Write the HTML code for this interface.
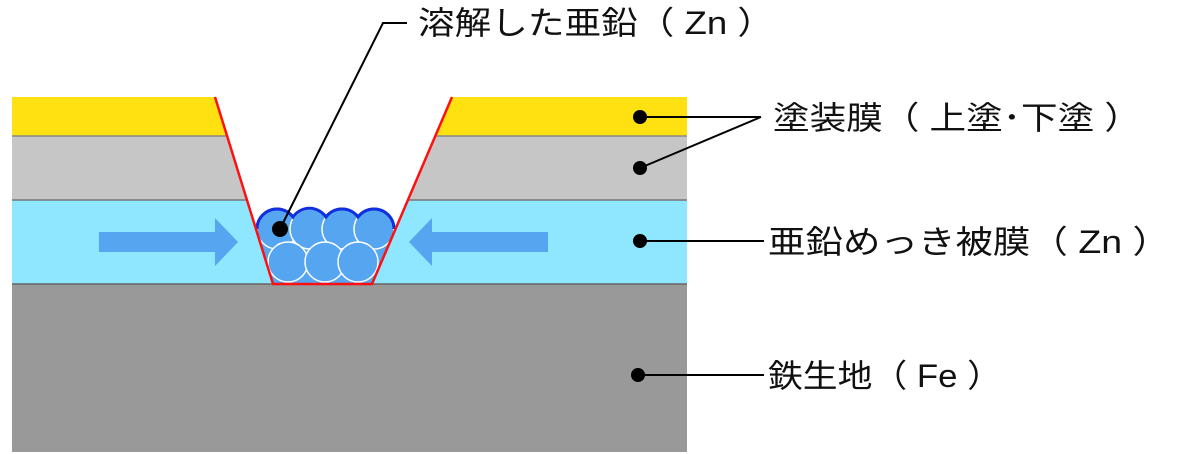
<!DOCTYPE html>
<html><head><meta charset="utf-8"><style>html,body{margin:0;padding:0;background:#fff}svg{display:block}</style></head>
<body>
<svg width="1200" height="454" viewBox="0 0 1200 454" xmlns="http://www.w3.org/2000/svg" font-family="'Liberation Sans','Noto Sans CJK JP',sans-serif">
<defs>
<clipPath id="trap"><polygon points="215,97 273,284 372,284 452,97"/></clipPath>
</defs>
<!-- layers -->
<rect x="12" y="97" width="675" height="39" fill="#FFE010"/>
<rect x="12" y="136" width="675" height="64" fill="#C6C6C6"/>
<rect x="12" y="200" width="675" height="84" fill="#8EE6FF"/>
<rect x="12" y="284" width="675" height="168" fill="#999999"/>
<line x1="12" y1="136" x2="687" y2="136" stroke="#888" stroke-width="1.5"/>
<line x1="12" y1="200" x2="687" y2="200" stroke="#777" stroke-width="1.5"/>
<line x1="12" y1="284" x2="687" y2="284" stroke="#666" stroke-width="1.5"/>
<!-- notch -->
<polygon points="215,97 273,284 372,284 452,97" fill="#fff"/>
<g clip-path="url(#trap)">
<g fill="#55A5F0" stroke="#1030E0" stroke-width="3">
<circle cx="277" cy="229" r="20"/><circle cx="310" cy="229" r="20"/><circle cx="342" cy="229" r="20"/><circle cx="374" cy="229" r="20"/>
</g>
<rect x="250" y="229" width="150" height="60" fill="#55A5F0"/>
<g fill="#55A5F0" stroke="#fff" stroke-width="1.5">
<circle cx="277" cy="229" r="20"/><circle cx="310" cy="229" r="20"/><circle cx="342" cy="229" r="20"/><circle cx="374" cy="229" r="20"/>
<circle cx="288" cy="262" r="20"/><circle cx="325" cy="262" r="20"/><circle cx="358" cy="262" r="20"/>
</g>
<g fill="none" stroke="#1030E0" stroke-width="3">
<path d="M257,229 A20,20 0 0 1 293,217 A20,20 0 0 1 326,217 A20,20 0 0 1 358,217 A20,20 0 0 1 394,229"/>
</g>
</g>
<polyline points="215,97 273,284 372,284 452,97" fill="none" stroke="#FF1010" stroke-width="2.5"/>
<!-- arrows -->
<polygon points="99,232 215,232 215,218 238,242 215,266 215,252 99,252" fill="#55A5F0"/>
<polygon points="548,232 432,232 432,218 409,242 432,266 432,252 548,252" fill="#55A5F0"/>
<!-- leaders -->
<g stroke="#000" stroke-width="2" fill="none">
<polyline points="280,229 383,23 407,23"/>
<line x1="640" y1="117" x2="761" y2="117"/>
<line x1="640" y1="168" x2="761" y2="117"/>
<line x1="640" y1="241" x2="764" y2="241"/>
<line x1="640" y1="375" x2="764" y2="375"/>
</g>
<g fill="#000">
<circle cx="280" cy="229" r="8"/>
<circle cx="640" cy="117" r="7"/><circle cx="640" cy="168" r="7"/><circle cx="640" cy="241" r="7"/><circle cx="638" cy="375" r="7"/>
</g>
<g font-size="32" fill="#111">
<text x="418" y="34" textLength="356" lengthAdjust="spacingAndGlyphs">溶解した亜鉛（ Zn ）</text>
<text x="773" y="129" textLength="368" lengthAdjust="spacingAndGlyphs">塗装膜（ 上塗･下塗 ）</text>
<text x="768" y="253" textLength="402" lengthAdjust="spacingAndGlyphs">亜鉛めっき被膜（ Zn ）</text>
<text x="768" y="387" textLength="234" lengthAdjust="spacingAndGlyphs">鉄生地（ Fe ）</text>
</g>
</svg>
</body></html>
